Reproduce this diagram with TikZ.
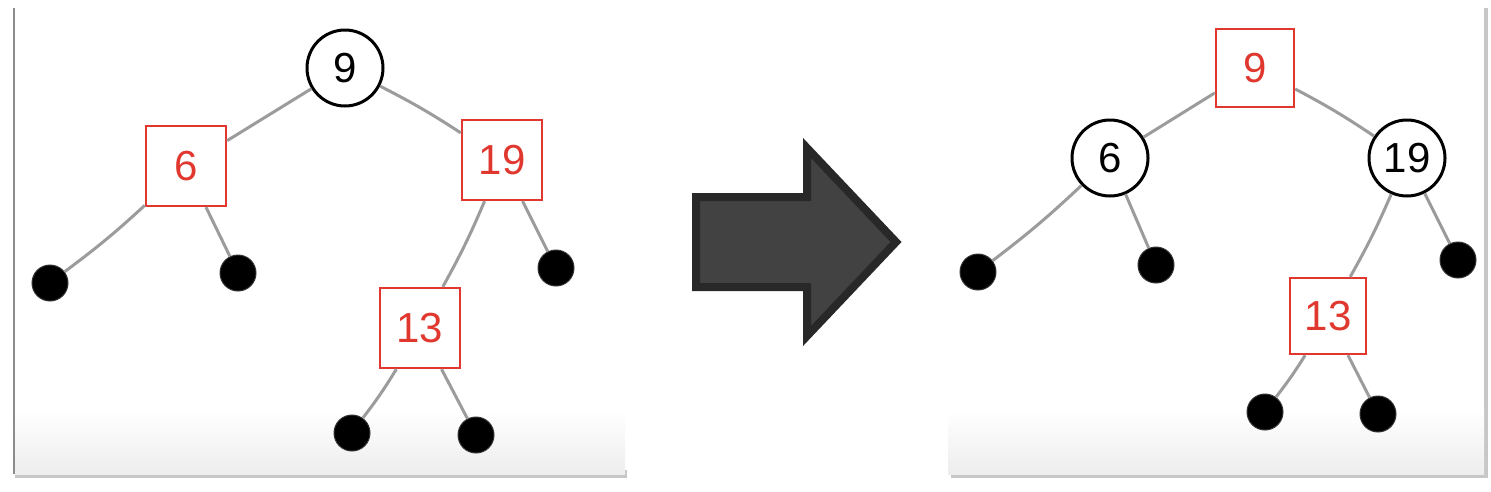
\documentclass[tikz,border=0pt]{standalone}
\usepackage{fontspec}
\setmainfont{Liberation Sans}
\usetikzlibrary{positioning,calc}
\definecolor{rbred}{HTML}{E0382E}
\definecolor{edgegrey}{HTML}{9C9C9C}
\definecolor{arrowfill}{HTML}{424242}
\definecolor{arrowline}{HTML}{282828}

\begin{document}
\begin{tikzpicture}[x=1pt, y=-1pt,
  every node/.style={font=\fontsize{42}{44}\selectfont},
  blacknode/.style={draw=black, circle, line width=3pt, fill=white, minimum size=76pt, inner sep=0pt},
  rednode/.style={draw=rbred, rectangle, line width=2.4pt, fill=white, minimum size=80pt, inner sep=0pt, text=rbred},
  nilleaf/.style={circle, fill=black, draw=black!80, line width=1pt, minimum size=36pt, inner sep=0pt},
  branch/.style={draw=edgegrey, line width=3pt}]
\useasboundingbox (0,0) rectangle (1491,491);
% panels
\fill[black!22] (15,470) rectangle (627,478);
\fill[white] (14,5) rectangle (625,474);
\shade[top color=white, bottom color=black!7] (14,410) rectangle (625,474);
\draw[black!45, line width=1.5pt] (14,8) -- (14,474);
\fill[black!22] (951,8) rectangle (1488,478);
\fill[white] (948,4) rectangle (1484,474);
\shade[top color=white, bottom color=black!7] (948,410) rectangle (1484,474);
% left tree
\node[blacknode] (lroot) at (345,68) {9};
\node[rednode] (lsix) at (186,166) {6};
\node[rednode] (lnineteen) at (502,160) {19};
\node[rednode] (lthirteen) at (420,328) {13};
\node[nilleaf] (lnil1) at (50,283) {};
\node[nilleaf] (lnil2) at (238,273) {};
\node[nilleaf] (lnil3) at (556,268) {};
\node[nilleaf] (lnil4) at (352,433) {};
\node[nilleaf] (lnil5) at (476,435) {};
% right tree
\node[rednode, minimum size=78pt] (rroot) at (1255,68) {9};
\node[blacknode] (rsix) at (1110,158) {6};
\node[blacknode] (rnineteen) at (1407,158) {19};
\node[rednode, minimum size=76pt] (rthirteen) at (1328,316) {13};
\node[nilleaf] (rnil1) at (978,272) {};
\node[nilleaf] (rnil2) at (1156,265) {};
\node[nilleaf] (rnil3) at (1458,260) {};
\node[nilleaf] (rnil4) at (1265,412) {};
\node[nilleaf] (rnil5) at (1378,414) {};
\foreach \side in {l,r} {
  \foreach \src/\dst/\bend in {root/six/0, root/nineteen/-3, six/nil1/-3, six/nil2/0,
                               nineteen/thirteen/-3, nineteen/nil3/0, thirteen/nil4/-3, thirteen/nil5/0} {
    \path[branch] (\side\src) to[bend right=\bend] (\side\dst);}}
% arrow
\draw[arrowline, fill=arrowfill, line width=8pt, line join=miter]
  (696,197) -- (807,197) -- (807,148) -- (896,242) -- (807,336) -- (807,287) -- (696,287) -- cycle;
\end{tikzpicture}
\end{document}
